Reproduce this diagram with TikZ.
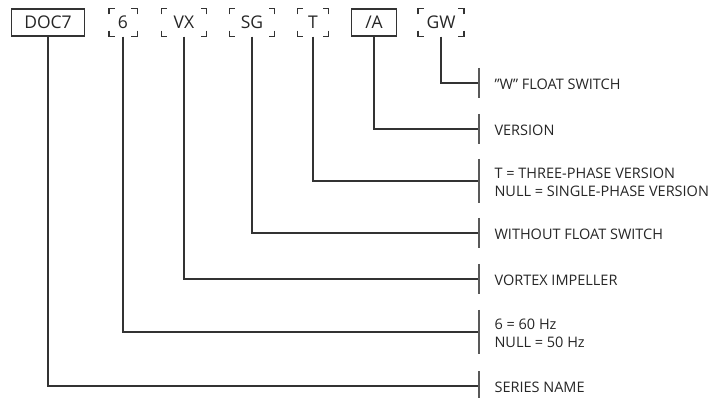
\documentclass[tikz,border=0pt]{standalone}
\usepackage{fontspec}
\setmainfont{Open Sans}

\begin{document}
\begin{tikzpicture}[x=1pt,y=-1pt,line width=1.1pt,
  code/.style={rectangle,draw=black!80,text=black!85,minimum height=27pt,inner xsep=8pt,inner ysep=0pt,font=\fontsize{17.5}{20}\selectfont},
  optcode/.style={code,draw=none},
  meaning/.style={anchor=west,align=left,text=black!85,inner sep=0pt,font=\fontsize{14.5}{18}\selectfont},
  link/.style={draw=black!80},
  tick/.style={draw=black!65}]
  \useasboundingbox (0,0) rectangle (718,398);
  \path
  (48,22.5) node[code,minimum width=73pt] (doc) {DOC7}
  (123,22.5) node[optcode,minimum width=27pt] (hz) {6}
  (184,22.5) node[optcode,minimum width=44pt] (vx) {VX}
  (252,22.5) node[optcode,minimum width=44pt] (sg) {SG}
  (313,22.5) node[optcode,minimum width=30pt] (ph) {T}
  (374,22.5) node[code,minimum width=45pt] (ver) {/A}
  (441,22.5) node[optcode,minimum width=44pt] (gw) {GW}

  (479,83) coordinate (tgw)
  (479,129) coordinate (tver)
  (479,181) coordinate (tph)
  (479,233) coordinate (tsg)
  (479,279) coordinate (tvx)
  (479,332) coordinate (thz)
  (479,386) coordinate (tdoc)

  (494,84) node[meaning] (lgw) {”W” FLOAT SWITCH}
  (494,130) node[meaning] (lver) {VERSION}
  (494,182) node[meaning] (lph) {T = THREE-PHASE VERSION\\NULL = SINGLE-PHASE VERSION}
  (494,234) node[meaning] (lsg) {WITHOUT FLOAT SWITCH}
  (494,280) node[meaning] (lvx) {VORTEX IMPELLER}
  (494,333) node[meaning] (lhz) {6 = 60 Hz\\NULL = 50 Hz}
  (494,387) node[meaning] (ldoc) {SERIES NAME}
  ;
  % corner marks of the optional codes
  \foreach \n in {hz,vx,sg,ph,gw} {
    \draw[link] ([yshift=-6pt]\n.north west) |- ([xshift=6pt]\n.north west);
    \draw[link] ([yshift=-6pt]\n.north east) |- ([xshift=-6pt]\n.north east);
    \draw[link] ([yshift=6pt]\n.south west) |- ([xshift=6pt]\n.south west);
    \draw[link] ([yshift=6pt]\n.south east) |- ([xshift=-6pt]\n.south east);
  }
  \draw[link] (gw.south) |- (tgw);
  \draw[link] (ver.south) |- (tver);
  \draw[link] (ph.south) |- (tph);
  \draw[link] (sg.south) |- (tsg);
  \draw[link] (vx.south) |- (tvx);
  \draw[link] (hz.south) |- (thz);
  \draw[link] (doc.south) |- (tdoc);

  \draw[tick] ([yshift=15pt]tgw) -- ([yshift=-15pt]tgw);
  \draw[tick] ([yshift=15pt]tver) -- ([yshift=-15pt]tver);
  \draw[tick] ([yshift=22pt]tph) -- ([yshift=-22pt]tph);
  \draw[tick] ([yshift=15pt]tsg) -- ([yshift=-15pt]tsg);
  \draw[tick] ([yshift=15pt]tvx) -- ([yshift=-15pt]tvx);
  \draw[tick] ([yshift=22pt]thz) -- ([yshift=-22pt]thz);
  \draw[tick] ([yshift=15pt]tdoc) -- ([yshift=-15pt]tdoc);
\end{tikzpicture}
\end{document}
